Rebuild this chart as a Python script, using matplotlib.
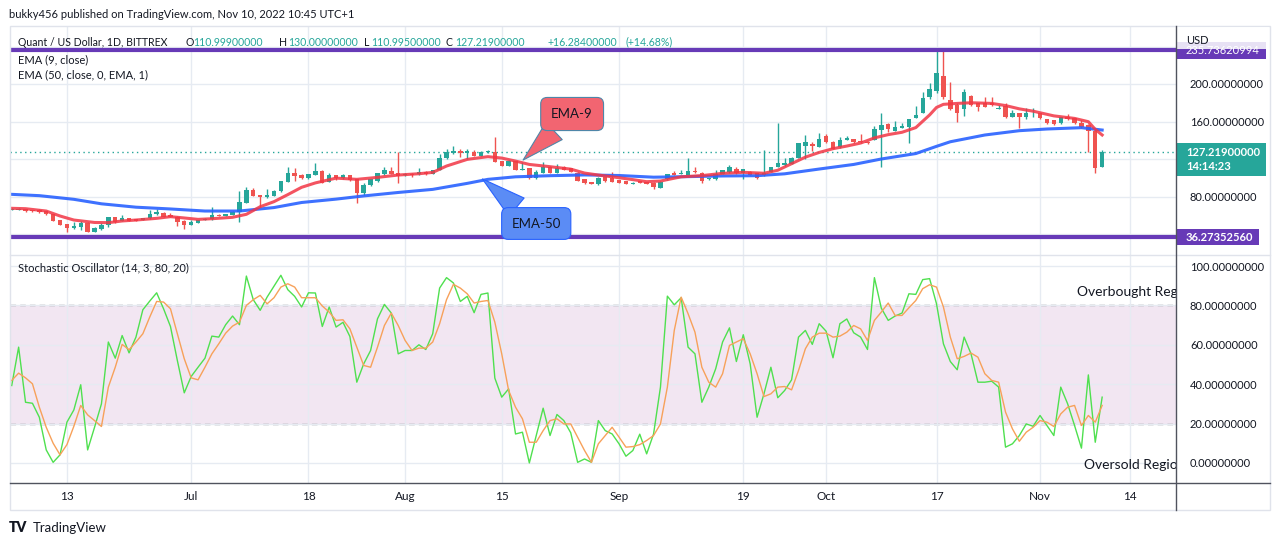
import numpy as np
import pandas as pd
import matplotlib
matplotlib.use("Agg")
import matplotlib.pyplot as plt
import matplotlib.dates as mdates
from matplotlib.patches import Rectangle
from matplotlib.lines import Line2D

# Quant / USD daily candles, 5 Jun - 10 Nov 2022
dates = pd.date_range("2022-06-05", "2022-11-10", freq="D")

opens = [65.6, 65.6, 66.3, 65.2, 65.6, 64.2, 61.3, 54.9, 50.7, 46.7,
         47.8, 52.1, 42.5, 45.0, 49.2, 58.1, 54.2, 57.1, 55.6, 54.9,
         56.7, 61.0, 62.4, 60.3, 58.5, 54.2, 49.9, 52.1, 55.3, 55.6,
         60.6, 59.2, 60.6, 63.5, 73.4, 86.9, 81.6, 79.1, 80.9, 85.5,
         95.8, 104.7, 102.9, 99.3, 102.9, 107.5, 95.8, 102.9, 99.3, 102.9,
         98.3, 84.0, 92.2, 96.5, 103.6, 107.2, 104.7, 102.9, 104.3, 103.6,
         106.5, 104.0, 108.2, 121.0, 126.0, 128.5, 126.0, 127.1, 123.5, 127.4,
         127.8, 117.8, 112.9, 117.8, 108.2, 110.0, 99.3, 105.4, 111.8, 105.4,
         111.8, 110.0, 105.4, 98.3, 95.1, 93.4, 100.5, 99.4, 97.6, 96.6,
         93.4, 96.6, 95.8, 94.8, 89.5, 98.3, 104.7, 104.0, 103.0, 107.2,
         105.4, 98.3, 99.0, 104.0, 105.8, 109.4, 104.7, 106.5, 104.7, 103.0,
         106.5, 111.8, 113.6, 114.7, 121.5, 134.3, 135.7, 133.2, 144.6, 138.5,
         132.5, 140.3, 141.0, 139.6, 138.5, 140.3, 151.0, 157.3, 150.2, 153.4,
         154.4, 164.0, 169.4, 186.4, 192.5, 208.5, 182.9, 177.6, 173.3, 187.2,
         179.3, 180.0, 180.0, 173.7, 176.5, 165.1, 168.7, 165.1, 166.5, 168.7,
         162.6, 161.6, 158.0, 164.4, 163.3, 158.0, 156.2, 150.2, 110.999]
highs = [67.4, 67.8, 66.8, 66.0, 66.2, 64.9, 61.7, 55.3, 51.0, 52.4,
         53.8, 52.5, 47.8, 52.0, 58.5, 58.5, 60.3, 57.6, 56.0, 57.2,
         65.6, 66.3, 63.0, 62.6, 58.9, 54.9, 55.0, 55.3, 56.7, 68.5,
         61.3, 61.7, 64.2, 85.9, 89.8, 89.4, 82.0, 87.6, 86.6, 96.9,
         111.8, 110.0, 103.6, 104.3, 116.1, 107.9, 104.7, 103.3, 104.0, 103.3,
         98.7, 94.0, 99.0, 105.0, 112.0, 112.0, 127.4, 105.0, 104.7, 110.0,
         107.0, 108.6, 125.0, 131.0, 134.0, 130.5, 131.0, 130.0, 128.2, 129.5,
         143.8, 118.2, 118.5, 118.2, 117.0, 110.5, 108.0, 116.5, 112.2, 115.0,
         112.5, 110.5, 106.0, 98.7, 95.8, 100.5, 101.0, 106.5, 98.0, 97.0,
         95.2, 97.0, 96.0, 95.2, 96.5, 104.2, 107.2, 108.0, 120.7, 111.1,
         106.0, 100.0, 108.2, 108.6, 113.4, 111.5, 109.4, 107.0, 105.0, 129.6,
         111.5, 158.8, 120.7, 122.5, 137.5, 145.6, 138.5, 147.4, 146.7, 139.0,
         143.8, 144.9, 141.4, 146.7, 139.0, 154.8, 169.0, 158.5, 160.5, 158.0,
         163.0, 176.5, 191.1, 200.7, 236.2, 235.2, 202.1, 180.0, 194.3, 188.0,
         180.0, 185.7, 186.4, 177.6, 180.0, 172.2, 169.0, 174.0, 174.0, 169.0,
         163.0, 162.0, 165.0, 168.0, 164.0, 161.6, 157.0, 150.8, 130.0]
lows = [65.2, 65.2, 63.8, 63.6, 62.8, 60.6, 54.0, 49.6, 42.1, 45.7,
        44.7, 42.2, 42.2, 44.5, 47.0, 52.0, 53.5, 53.5, 53.8, 54.5,
        56.5, 60.6, 58.0, 58.0, 49.0, 45.0, 49.6, 51.7, 54.9, 55.3,
        59.2, 58.9, 60.3, 53.1, 72.7, 80.5, 69.1, 78.7, 80.5, 85.2,
        95.5, 96.9, 99.0, 98.9, 102.5, 94.0, 95.0, 98.0, 98.5, 97.0,
        73.4, 82.0, 91.5, 96.0, 103.3, 104.0, 94.7, 102.0, 101.2, 103.3,
        103.0, 103.6, 107.9, 120.5, 125.5, 122.5, 120.5, 123.0, 123.0, 126.5,
        116.5, 112.5, 112.5, 107.9, 107.9, 99.0, 99.0, 105.0, 105.0, 105.0,
        107.9, 106.0, 96.5, 93.6, 93.0, 92.0, 96.0, 95.0, 94.5, 93.0,
        93.0, 94.5, 93.0, 88.4, 88.7, 98.0, 102.5, 103.6, 102.5, 105.4,
        94.0, 98.0, 98.0, 103.6, 105.4, 104.3, 99.0, 102.5, 99.0, 102.0,
        106.0, 111.5, 113.0, 114.3, 121.0, 120.5, 128.9, 132.8, 137.3, 130.3,
        132.0, 139.9, 137.3, 137.3, 136.3, 139.9, 111.0, 149.0, 149.8, 153.0,
        136.7, 163.5, 169.0, 183.6, 190.0, 183.6, 172.0, 159.8, 165.8, 176.5,
        171.5, 175.0, 176.5, 173.3, 164.0, 164.5, 152.7, 162.3, 165.0, 162.8,
        157.0, 156.5, 157.5, 162.0, 157.5, 153.3, 127.8, 104.7, 110.995]
closes = [67.0, 67.2, 64.2, 64.2, 63.1, 61.0, 54.2, 49.9, 46.4, 48.5,
          52.1, 42.5, 46.4, 49.6, 58.1, 52.8, 57.1, 53.9, 54.2, 56.7,
          61.3, 63.1, 58.5, 58.5, 53.1, 49.9, 53.1, 54.9, 56.3, 60.3,
          59.6, 61.3, 63.8, 74.1, 86.9, 80.9, 79.1, 81.6, 86.2, 96.5,
          104.7, 102.2, 99.4, 104.0, 107.2, 94.7, 102.9, 99.3, 102.9, 97.6,
          84.0, 92.2, 98.3, 104.7, 108.2, 104.3, 102.2, 104.3, 102.9, 106.5,
          103.6, 108.2, 121.0, 127.1, 128.9, 126.0, 128.5, 123.5, 127.8, 128.9,
          117.1, 112.9, 117.8, 108.2, 109.3, 99.3, 106.5, 111.8, 105.4, 110.0,
          108.2, 106.5, 96.9, 94.0, 93.3, 99.4, 96.6, 95.8, 94.8, 93.4,
          94.8, 94.8, 93.4, 90.5, 95.8, 103.7, 103.0, 105.4, 107.2, 105.8,
          96.9, 99.7, 104.0, 108.3, 111.1, 104.7, 109.0, 103.0, 99.4, 104.7,
          111.1, 115.4, 116.1, 120.7, 136.7, 138.5, 134.3, 141.4, 137.8, 130.7,
          140.3, 142.1, 137.8, 137.8, 136.7, 152.0, 156.2, 152.4, 153.7, 155.2,
          162.3, 166.9, 184.7, 194.3, 211.7, 186.4, 173.3, 169.4, 191.8, 177.6,
          175.8, 175.8, 177.2, 174.7, 165.1, 168.7, 164.4, 169.4, 167.2, 163.3,
          158.7, 156.9, 164.4, 162.3, 158.0, 153.7, 150.2, 110.9, 127.219]

# moving averages, read at sample days (index into dates)
ema9_idx = [0, 2, 5, 7, 9, 12, 14, 16, 18, 21, 23, 25, 27, 29, 32, 34, 36, 38, 40, 42,
            44, 47, 50, 53, 56, 59, 61, 63, 66, 69, 71, 73, 75, 78, 81, 83, 85, 87, 90, 92,
            94, 97, 100, 103, 106, 109, 111, 113, 115, 117, 119, 121, 123, 125, 127, 129,
            131, 133, 134, 135, 137, 139, 142, 144, 146, 148, 151, 154, 156, 157, 158]
ema9_vals = [67.4, 67.0, 64.5, 59.2, 54.9, 52.3, 52.1, 53.9, 54.9, 56.7, 58.5, 57.1, 55.6, 56.3,
             57.8, 61.0, 69.1, 74.5, 82.0, 89.8, 94.5, 99.6, 98.3, 100.4, 102.9, 104.3, 105.7,
             112.5, 119.6, 122.5, 121.0, 117.8, 114.2, 111.8, 109.2, 105.0, 102.9, 101.0, 98.0,
             95.8, 96.5, 101.0, 102.3, 104.7, 105.8, 104.8, 108.0, 115.0, 122.0, 127.0, 131.0,
             133.8, 137.0, 142.5, 146.0, 148.5, 153.5, 167.0, 175.0, 178.3, 179.3, 180.0, 179.3,
             177.0, 173.5, 171.0, 166.0, 163.3, 159.8, 151.6, 145.6]
ema50_idx = [0, 4, 9, 13, 18, 23, 28, 33, 38, 42, 47, 51, 56, 61, 66, 69, 73, 78, 83, 88,
             93, 98, 103, 108, 112, 117, 122, 126, 131, 134, 136, 141, 146, 150, 155, 158]
ema50_vals = [82.3, 80.9, 77.0, 72.2, 68.6, 66.7, 64.5, 64.5, 68.2, 73.6, 77.2, 80.6, 84.3,
              87.6, 94.0, 98.3, 101.0, 102.2, 103.0, 102.4, 100.6, 101.2, 101.9, 102.2, 104.2,
              109.3, 114.2, 120.0, 125.8, 133.5, 138.4, 145.6, 150.2, 152.0, 153.4, 150.9]

upper_level = 235.73620994
lower_level = 36.27352560

# Stochastic (14, 3): %K green, %D orange
stoch_k = [39.3, 58.8, 30.8, 30.3, 23.2, 6.6, 0.3, 4.1, 20.7, 26.9,
           39.7, 6.6, 18.1, 30.0, 61.4, 53.2, 64.7, 55.9, 63.9, 77.8,
           82.2, 86.4, 78.3, 69.3, 52.0, 35.6, 43.9, 48.6, 53.2, 64.4,
           63.9, 70.2, 74.6, 70.2, 94.9, 82.9, 77.5, 84.2, 89.7, 95.3,
           88.0, 84.6, 79.2, 86.4, 86.3, 69.3, 79.2, 69.0, 71.4, 64.2,
           41.0, 50.3, 57.1, 73.2, 80.5, 76.1, 55.4, 57.1, 57.1, 60.0,
           57.6, 65.6, 88.8, 94.1, 91.4, 82.0, 84.6, 76.3, 85.6, 86.3,
           43.1, 33.4, 37.6, 14.7, 15.6, 0.0, 13.9, 27.8, 13.9, 24.6,
           21.5, 15.3, 0.3, 2.0, 0.3, 21.5, 16.4, 14.7, 9.7, 3.4,
           6.3, 14.6, 4.6, 14.7, 38.5, 84.7, 80.3, 83.9, 58.8, 55.4,
           30.8, 38.5, 47.8, 61.4, 68.6, 51.5, 65.1, 50.3, 23.2, 35.1,
           48.6, 33.1, 36.8, 42.2, 63.9, 67.3, 60.2, 70.7, 66.9, 53.4,
           70.7, 73.1, 66.1, 63.9, 57.6, 94.1, 78.6, 72.4, 74.6, 76.1,
           85.9, 85.6, 93.1, 93.6, 80.8, 60.5, 51.5, 47.3, 63.9, 55.4,
           41.0, 41.0, 41.5, 38.5, 8.0, 9.7, 13.9, 19.8, 18.6, 24.1,
           19.0, 13.9, 38.5, 30.0, 19.0, 7.5, 44.7, 10.5, 33.4]
stoch_d = [41.9, 45.6, 43.2, 40.2, 28.3, 18.1, 10.0, 4.1, 9.3, 18.6,
           29.2, 24.4, 21.5, 18.5, 38.5, 48.6, 60.2, 57.5, 61.4, 65.6,
           74.1, 82.0, 81.7, 78.3, 65.6, 52.9, 43.2, 42.2, 48.6, 55.4,
           60.5, 65.9, 69.5, 71.5, 80.0, 82.9, 85.1, 80.8, 83.9, 89.3,
           91.0, 89.3, 83.9, 83.9, 83.9, 79.7, 76.6, 72.4, 72.7, 68.1,
           58.8, 49.5, 48.6, 58.8, 69.8, 76.1, 69.8, 62.2, 57.1, 58.3,
           58.3, 61.4, 70.7, 82.9, 90.7, 88.8, 85.9, 81.2, 82.0, 82.5,
           71.5, 55.4, 36.8, 28.3, 22.4, 10.5, 10.5, 16.4, 21.5, 22.4,
           19.8, 19.8, 13.1, 6.3, 0.3, 9.7, 13.9, 18.1, 13.1, 8.0,
           8.3, 9.3, 11.4, 13.9, 19.8, 38.5, 67.3, 84.2, 75.8, 66.4,
           48.6, 41.0, 38.5, 45.3, 59.7, 61.4, 63.1, 55.4, 45.3, 33.7,
           35.1, 38.5, 38.8, 37.1, 46.9, 58.0, 63.9, 65.9, 65.9, 63.9,
           64.4, 66.4, 69.8, 68.1, 62.2, 72.4, 76.6, 81.2, 74.9, 74.9,
           78.8, 82.5, 88.5, 90.5, 89.3, 79.2, 63.9, 52.9, 54.1, 55.8,
           53.7, 45.3, 41.9, 41.0, 25.8, 17.3, 11.0, 15.6, 18.1, 21.5,
           20.7, 18.5, 24.9, 28.3, 29.2, 19.0, 24.1, 20.7, 29.2]

tick_dates = ["2022-06-13", "2022-07-01", "2022-07-18", "2022-08-01", "2022-08-15", "2022-09-01",
              "2022-09-19", "2022-10-01", "2022-10-17", "2022-11-01", "2022-11-14"]
tick_labels = ["13", "Jul", "18", "Aug", "15", "Sep", "19", "Oct", "17", "Nov", "14"]
price_ticks = [40, 80, 120, 160, 200, 240]
price_labels = ["", "80.00000000", "", "160.00000000", "200.00000000", ""]
stoch_ticks = [0, 20, 40, 60, 80, 100]

GREEN = "#26a69a"
RED = "#ef5350"
PURPLE = "#673ab7"
GRID = "#e6ebf2"
TXT = "#131722"

plt.rcParams['font.family'] = ['Lato', 'DejaVu Sans']

W, H = 1280, 546
fig = plt.figure(figsize=(12.8, 5.46), dpi=100)


def fx(x):
    return x / W


def fy(y):
    return 1 - y / H


ax1 = fig.add_axes([fx(10), fy(255), fx(1176) - fx(10), fy(27) - fy(255)])
ax2 = fig.add_axes([fx(10), fy(483), fx(1176) - fx(10), fy(255) - fy(483)])

xd = mdates.date2num(dates)
x0 = xd[0]
for ax in (ax1, ax2):
    ax.set_xlim(x0 - 0.25, x0 + 168.7)
    for s in ax.spines.values():
        s.set_visible(False)
    ax.set_xticks(mdates.date2num(pd.to_datetime(tick_dates)))
    ax.grid(True, color=GRID, lw=1, zorder=0)
    ax.yaxis.tick_right()
    ax.tick_params(length=0, pad=10, labelsize=8, labelcolor=TXT)

# ---- price pane
ax1.set_ylim(17.6, 260.8)
ax1.set_yticks(price_ticks)
ax1.set_yticklabels(price_labels)
ax1.tick_params(labelbottom=False)

o, h, l, c = map(np.array, (opens, highs, lows, closes))
col = np.where(c >= o, GREEN, RED)
ax1.vlines(xd, l, h, colors=col, lw=1, zorder=3)
ax1.bar(xd, np.maximum(np.abs(c - o), 0.5), bottom=np.minimum(o, c), width=0.64,
        color=col, linewidth=0, zorder=4)

ax1.plot(xd[ema50_idx], ema50_vals, color="#2962ff", lw=2.2, alpha=0.9, zorder=5,
         solid_joinstyle="round")
ax1.plot(xd[ema9_idx], ema9_vals, color="#f23645", lw=2.2, alpha=0.85, zorder=6,
         solid_joinstyle="round")

ax1.axhline(upper_level, color=PURPLE, lw=3, zorder=7)
ax1.axhline(lower_level, color=PURPLE, lw=3, zorder=7)
ax1.axhline(closes[-1], color=GREEN, lw=1, ls=(0, (1, 2.5)), zorder=2)

ax1.annotate("EMA-9", xy=(x0 + 74.1, 118.9), xytext=(x0 + 81.2, 168.0), ha="center", va="center",
             fontsize=9.5, color=TXT, zorder=9,
             bbox=dict(boxstyle="round,pad=0.8,rounding_size=0.5", fc="#f26571", ec="#4f86a8", lw=0.8),
             arrowprops=dict(arrowstyle="wedge,tail_width=1.8", fc="#f26571", ec="#4f86a8", lw=0.8,
                             shrinkA=0, shrinkB=0))
ax1.annotate("EMA-50", xy=(x0 + 68.2, 98.7), xytext=(x0 + 76.0, 51.2), ha="center", va="center",
             fontsize=9.5, color=TXT, zorder=9,
             bbox=dict(boxstyle="round,pad=0.75,rounding_size=0.5", fc="#5b8cf5", ec="#2962ff", lw=0.8),
             arrowprops=dict(arrowstyle="wedge,tail_width=1.8", fc="#5b8cf5", ec="#2962ff", lw=0.8,
                             shrinkA=0, shrinkB=0))

# ---- stochastic pane
ax2.set_ylim(-10.2, 105.6)
ax2.set_yticks(stoch_ticks)
ax2.set_yticklabels(["%.8f" % v for v in stoch_ticks])
ax2.set_xticklabels(tick_labels)
ax2.tick_params(axis="x", pad=6, labelsize=8.5)
ax2.axhspan(20, 80, color="#f2e6f2", lw=0, zorder=0.5)
ax2.axhline(80, color="#787b86", lw=1, ls=(0, (4, 3)), zorder=1)
ax2.axhline(20, color="#787b86", lw=1, ls=(0, (4, 3)), zorder=1)
ax2.plot(xd, stoch_k, color="#4fe04f", lw=1, zorder=3)
ax2.plot(xd, stoch_d, color="#f7a15a", lw=1, zorder=4)
ax2.text(x0 + 154.4, 86.8, "Overbought Region", fontsize=10, color=TXT, va="center", clip_on=True)
ax2.text(x0 + 155.4, -1.0, "Oversold Region", fontsize=10, color=TXT, va="center", clip_on=True)

# ---- frame lines
fig.add_artist(Rectangle((fx(10), fy(510)), fx(1270) - fx(10), fy(26) - fy(510),
                         transform=fig.transFigure, fill=False, ec="#e0e3eb", lw=1))
fig.add_artist(Line2D([fx(10), fx(1270)], [fy(255), fy(255)], transform=fig.transFigure,
                      color="#e0e3eb", lw=1))
fig.add_artist(Line2D([fx(10), fx(1270)], [fy(483), fy(483)], transform=fig.transFigure,
                      color="#50535e", lw=1))
fig.add_artist(Line2D([fx(1176), fx(1176)], [fy(26), fy(510)], transform=fig.transFigure,
                      color="#50535e", lw=1))


# ---- price tags on the scale
def tag_y(v):
    return fig.transFigure.inverted().transform(ax1.transData.transform((x0, v)))[1]


yt = tag_y(upper_level)
fig.add_artist(Rectangle((fx(1177), yt - 8.5 / H), 89 / W, 17 / H, transform=fig.transFigure,
                         fc=PURPLE, ec="none"))
fig.text(fx(1186), yt, "%.8f" % upper_level, color="white", fontsize=8, va="center")
fig.add_artist(Rectangle((fx(1177), fy(49)), 92 / W, 22 / H, transform=fig.transFigure,
                         fc="white", ec="none", alpha=0.85))
fig.text(fx(1186), fy(40), "USD", color=TXT, fontsize=8, va="center")

yt = tag_y(closes[-1])
fig.add_artist(Rectangle((fx(1177), yt - 24 / H), 89 / W, 33 / H, transform=fig.transFigure,
                         fc=GREEN, ec="none"))
fig.text(fx(1186), yt, "%.8f" % closes[-1], color="white", fontsize=8, va="center", fontweight="bold")
fig.text(fx(1186), yt - 14.5 / H, "14:14:23", color="white", fontsize=8, va="center", fontweight="bold")

yt = tag_y(lower_level)
fig.add_artist(Rectangle((fx(1177), yt - 8 / H), 82 / W, 16 / H, transform=fig.transFigure,
                         fc=PURPLE, ec="none"))
fig.text(fx(1186), yt, "%.8f" % lower_level, color="white", fontsize=8, va="center", fontweight="bold")

# ---- texts
fig.text(fx(9), fy(15), "bukky456 published on TradingView.com, Nov 10, 2022 10:45 UTC+1",
         fontsize=8, color=TXT, va="center")
row = [(18, "Quant / US Dollar, 1D, BITTREX", TXT), (185, "O", TXT), (193, "110.99900000", GREEN),
       (279, "H", TXT), (288, "130.00000000", GREEN), (364, "L", TXT), (371, "110.99500000", GREEN),
       (446, "C", TXT), (455, "127.21900000", GREEN), (547, "+16.28400000", GREEN),
       (625, "(+14.68%)", GREEN)]
for xp, s, cl in row:
    fig.text(fx(xp), fy(42), s, fontsize=7.6, color=cl, va="center")
fig.text(fx(18), fy(60), "EMA (9, close)", fontsize=8, color=TXT, va="center")
fig.text(fx(18), fy(75), "EMA (50, close, 0, EMA, 1)", fontsize=8, color=TXT, va="center")
fig.text(fx(18), fy(268), "Stochastic Oscillator (14, 3, 80, 20)", fontsize=8, color=TXT, va="center")

fig.text(fx(9), fy(528), "TV", fontsize=10, color=TXT, va="center", fontweight="heavy")
fig.text(fx(33), fy(528), "TradingView", fontsize=9.5, color=TXT, va="center")

fig.savefig("out.png", dpi=100, facecolor="white")
